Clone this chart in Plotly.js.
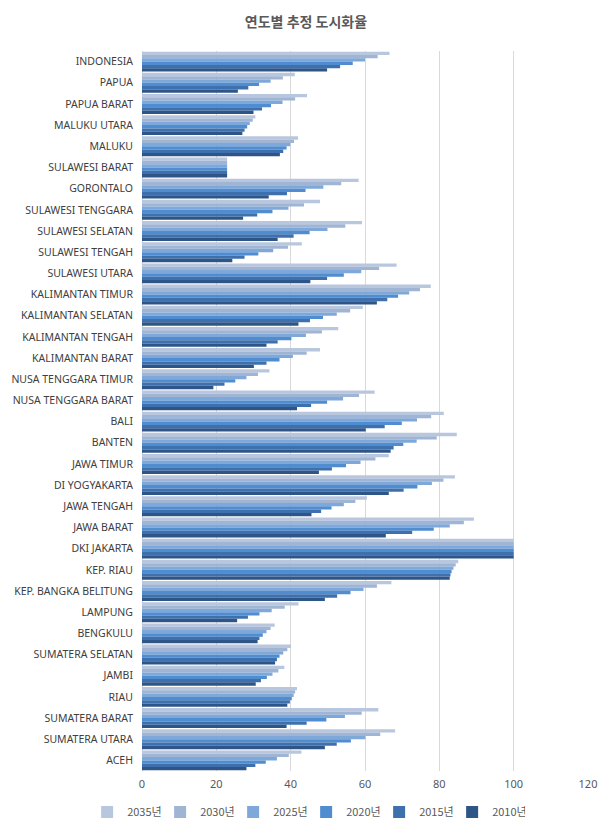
<!DOCTYPE html>
<html>
<head>
<meta charset="utf-8">
<script src="https://cdn.plot.ly/plotly-3.0.1.min.js"></script>
<style>
  html, body { margin: 0; padding: 0; background: #ffffff; }
  #chart { width: 612px; height: 833px; }
</style>
</head>
<body>
<div id="chart"></div>
<script>
// Categories, top to bottom as shown in the chart
const provinces = [
  "INDONESIA", "PAPUA", "PAPUA BARAT", "MALUKU UTARA", "MALUKU", "SULAWESI BARAT",
  "GORONTALO", "SULAWESI TENGGARA", "SULAWESI SELATAN", "SULAWESI TENGAH", "SULAWESI UTARA",
  "KALIMANTAN TIMUR", "KALIMANTAN SELATAN", "KALIMANTAN TENGAH", "KALIMANTAN BARAT",
  "NUSA TENGGARA TIMUR", "NUSA TENGGARA BARAT", "BALI", "BANTEN", "JAWA TIMUR",
  "DI YOGYAKARTA", "JAWA TENGAH", "JAWA BARAT", "DKI JAKARTA", "KEP. RIAU",
  "KEP. BANGKA BELITUNG", "LAMPUNG", "BENGKULU", "SUMATERA SELATAN", "JAMBI", "RIAU",
  "SUMATERA BARAT", "SUMATERA UTARA", "ACEH"
];

// Estimated urbanization rate (%) per projection year, same order as provinces
const y2035 = [66.6, 41.1, 44.4, 30.5, 42.0, 22.9, 58.3, 47.9, 59.2, 43.0, 68.5, 77.7, 59.4, 52.8, 47.9, 34.3, 62.6, 81.2, 84.7, 66.4, 84.2, 60.5, 89.3, 100, 85.1, 67.1, 42.1, 35.7, 40.1, 38.3, 41.7, 63.6, 68.1, 42.9];
const y2030 = [63.4, 37.9, 41.2, 29.8, 40.9, 22.9, 53.6, 43.6, 54.7, 39.3, 63.8, 74.8, 56.0, 48.4, 44.3, 31.2, 58.4, 77.8, 79.3, 62.8, 81.1, 57.4, 86.6, 100, 84.4, 63.2, 38.4, 34.6, 39.1, 36.7, 41.2, 59.1, 64.1, 39.5];
const y2025 = [60.0, 34.6, 37.8, 29.0, 39.9, 22.9, 48.8, 39.4, 49.9, 35.3, 59.0, 71.9, 52.4, 44.1, 40.6, 28.1, 54.1, 74.0, 73.9, 58.8, 78.0, 54.3, 82.8, 100, 83.8, 59.6, 34.9, 33.5, 38.0, 35.1, 40.8, 54.6, 60.1, 36.3];
const y2020 = [56.7, 31.5, 34.7, 28.3, 38.9, 22.9, 44.0, 35.1, 45.1, 31.3, 54.3, 68.9, 48.7, 40.2, 37.0, 25.1, 49.8, 69.9, 70.3, 54.9, 74.1, 51.0, 78.5, 100, 83.3, 56.1, 31.6, 32.5, 37.0, 33.6, 40.3, 49.6, 56.2, 33.3];
const y2015 = [53.3, 28.6, 32.3, 27.6, 38.0, 22.9, 39.0, 31.0, 40.8, 27.6, 49.8, 66.0, 45.2, 36.5, 33.5, 22.2, 45.5, 65.3, 67.7, 51.1, 70.4, 48.2, 72.7, 100, 83.0, 52.5, 28.5, 31.6, 36.3, 32.0, 39.8, 44.3, 52.4, 30.5];
const y2010 = [49.8, 25.8, 30.0, 27.0, 37.1, 22.9, 34.1, 27.2, 36.5, 24.3, 45.3, 63.2, 42.1, 33.5, 30.1, 19.2, 41.7, 60.2, 66.9, 47.6, 66.4, 45.6, 65.6, 100, 82.8, 49.2, 25.6, 31.1, 35.8, 30.6, 39.1, 38.9, 49.2, 28.1];

const seriesNames = ["2035년", "2030년", "2025년", "2020년", "2015년", "2010년"];
const seriesValues = [y2035, y2030, y2025, y2020, y2015, y2010];
const seriesColors = ["#b9c7de", "#a0b4d4", "#7ea7da", "#4f8dd0", "#3e70ad", "#2e5587"];

const xTicks = [0, 20, 40, 60, 80, 100, 120];

const traces = seriesNames.map((name, i) => ({
  type: "bar",
  orientation: "h",
  name: name,
  y: provinces,
  x: seriesValues[i],
  marker: { color: seriesColors[i], line: { width: 0 } },
  hoverinfo: "x+y+name"
}));

const layout = {
  width: 612,
  height: 833,
  paper_bgcolor: "#ffffff",
  plot_bgcolor: "#ffffff",
  margin: { l: 142, r: 24, t: 51, b: 62, autoexpand: false },
  title: {
    text: "연도별 추정 도시화율",
    x: 0.5,
    xanchor: "center",
    y: 0.973,
    yanchor: "middle",
    font: { family: "Noto Sans CJK KR, Noto Sans, sans-serif", size: 14, color: "#595959", weight: "bold" }
  },
  barmode: "group",
  bargap: 0.06,
  bargroupgap: 0,
  xaxis: {
    range: [0, 120],
    tickvals: xTicks,
    ticktext: xTicks.map(String),
    showgrid: true,
    gridcolor: "#d9d9d9",
    gridwidth: 1,
    zeroline: true,
    zerolinecolor: "#d9d9d9",
    showline: false,
    ticks: "",
    ticklabelstandoff: 5,
    tickfont: { family: "Noto Sans, Open Sans, sans-serif", size: 11, color: "#595959" },
    fixedrange: true
  },
  yaxis: {
    type: "category",
    categoryorder: "array",
    categoryarray: provinces,
    autorange: "reversed",
    showgrid: false,
    zeroline: false,
    showline: false,
    ticks: "",
    ticklabelstandoff: 8,
    tickfont: { family: "Noto Sans, Open Sans, sans-serif", size: 10.5, color: "#404040" },
    fixedrange: true
  },
  legend: {
    orientation: "h",
    x: 0.368,
    xanchor: "center",
    y: -0.057,
    yanchor: "middle",
    traceorder: "normal",
    font: { family: "Noto Sans CJK KR, Noto Sans, sans-serif", size: 11, color: "#595959" },
    itemwidth: 30,
    entrywidth: 28,
    entrywidthmode: "pixels"
  },
  showlegend: true
};

Plotly.newPlot("chart", traces, layout, { displayModeBar: false, staticPlot: true });
</script>
</body>
</html>
